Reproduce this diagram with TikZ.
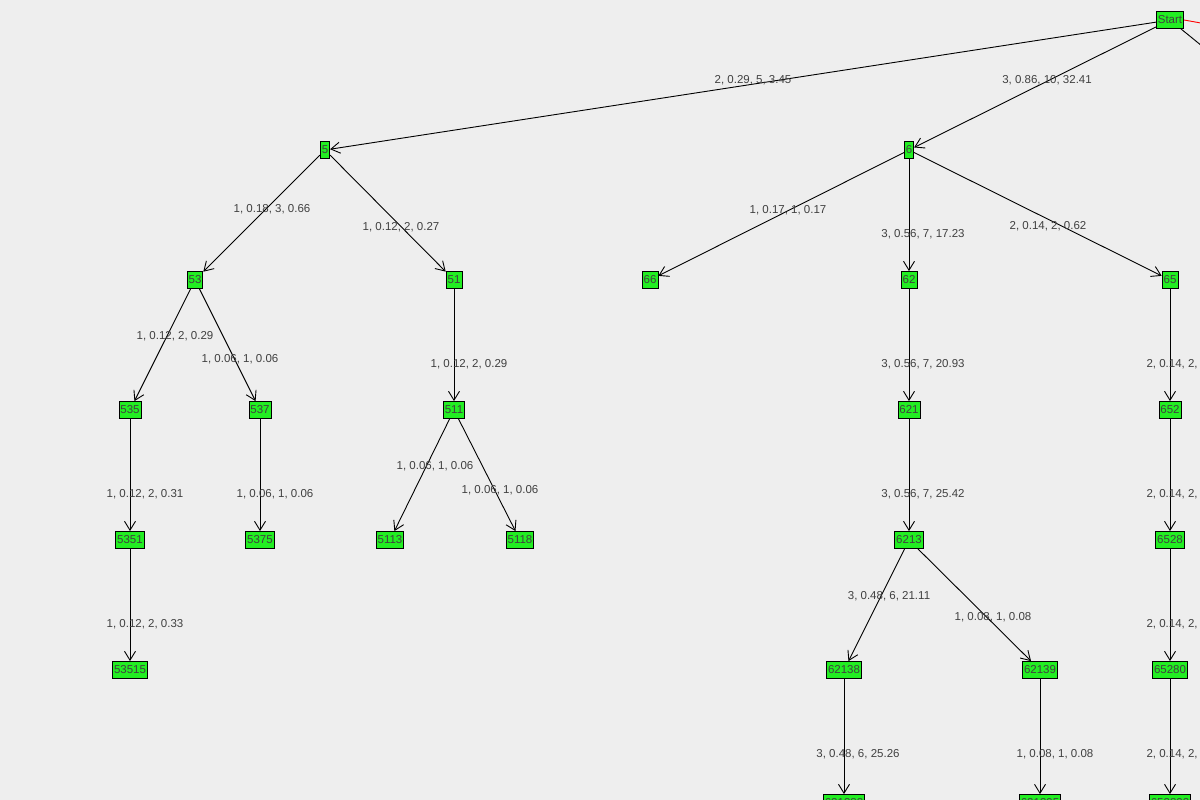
\documentclass[tikz,border=0pt]{standalone}
\usepackage{fontspec}
\setmainfont{Liberation Sans}
\usetikzlibrary{arrows.meta}
\definecolor{bgrey}{RGB}{238,238,238}
\definecolor{ngreen}{RGB}{34,238,34}
\tikzset{
  treenode/.style = {shape=rectangle, draw, fill=ngreen, font=\fontsize{11.5}{12}\selectfont,
                     inner sep=1.5pt, minimum height=17pt, text=black!75, line width=0.8pt},
  elabel/.style   = {font=\fontsize{11.5}{12}\selectfont, text=black!75},
  edge/.style     = {draw, -{Straight Barb[length=9pt,width=11pt]}, line width=0.9pt}
}
\begin{document}
\begin{tikzpicture}[x=1pt,y=-1pt]
\fill[bgrey] (0,0) rectangle (1200,800);
\useasboundingbox (0,0) rectangle (1200,800);
\begin{scope}
\clip (0,0) rectangle (1200,800);
% nodes
\node [treenode] (start) at (1170,20) {Start};
\node [treenode] (n5) at (325,150) {5};
\node [treenode] (n6) at (909,150) {6};
\node [treenode] (n7) at (1330,150) {7};
\coordinate (red) at (1240,30);
\node [treenode] (n53) at (195,280) {53};
\node [treenode] (n51) at (454,280) {51};
\node [treenode] (n66) at (650,280) {66};
\node [treenode] (n62) at (909,280) {62};
\node [treenode] (n65) at (1170,280) {65};
\node [treenode] (n535) at (130,410) {535};
\node [treenode] (n537) at (260,410) {537};
\node [treenode] (n511) at (454,410) {511};
\node [treenode] (n621) at (909,410) {621};
\node [treenode] (n652) at (1170,410) {652};
\node [treenode] (n5351) at (130,540) {5351};
\node [treenode] (n5375) at (260,540) {5375};
\node [treenode] (n5113) at (390,540) {5113};
\node [treenode] (n5118) at (520,540) {5118};
\node [treenode] (n6213) at (909,540) {6213};
\node [treenode] (n6528) at (1170,540) {6528};
\node [treenode] (n53515) at (130,670) {53515};
\node [treenode] (n62138) at (844,670) {62138};
\node [treenode] (n62139) at (1040,670) {62139};
\node [treenode] (n65280) at (1170,670) {65280};
\node [treenode] (n621382) at (844,803) {621382};
\node [treenode] (n621395) at (1040,803) {621395};
\node [treenode] (n652802) at (1170,803) {652802};
% edges
\draw [red, line width=0.9pt] (start.east) -- (red);
\draw [edge] (start) -- (n7);
\draw [edge] (start) -- (n5);
\draw [edge] (start) -- (n6);
\draw [edge] (n5) -- (n53);
\draw [edge] (n5) -- (n51);
\draw [edge] (n6) -- (n66);
\draw [edge] (n6) -- (n62);
\draw [edge] (n6) -- (n65);
\draw [edge] (n53) -- (n535);
\draw [edge] (n53) -- (n537);
\draw [edge] (n51) -- (n511);
\draw [edge] (n62) -- (n621);
\draw [edge] (n65) -- (n652);
\draw [edge] (n535) -- (n5351);
\draw [edge] (n537) -- (n5375);
\draw [edge] (n511) -- (n5113);
\draw [edge] (n511) -- (n5118);
\draw [edge] (n621) -- (n6213);
\draw [edge] (n652) -- (n6528);
\draw [edge] (n5351) -- (n53515);
\draw [edge] (n6213) -- (n62138);
\draw [edge] (n6213) -- (n62139);
\draw [edge] (n6528) -- (n65280);
\draw [edge] (n62138) -- (n621382);
\draw [edge] (n62139) -- (n621395);
\draw [edge] (n65280) -- (n652802);
% edge labels
\node [elabel] (l1) at (753,80) {2, 0.29, 5, 3.45};
\node [elabel] (l2) at (1047,80) {3, 0.86, 10, 32.41};
\node [elabel] (l3) at (272,209) {1, 0.18, 3, 0.66};
\node [elabel] (l4) at (401,227) {1, 0.12, 2, 0.27};
\node [elabel] (l5) at (788,210) {1, 0.17, 1, 0.17};
\node [elabel] (l6) at (923,234) {3, 0.56, 7, 17.23};
\node [elabel] (l7) at (1048,226) {2, 0.14, 2, 0.62};
\node [elabel] (l8) at (175,336) {1, 0.12, 2, 0.29};
\node [elabel] (l9) at (240,359) {1, 0.06, 1, 0.06};
\node [elabel] (l10) at (469,364) {1, 0.12, 2, 0.29};
\node [elabel] (l11) at (923,364) {3, 0.56, 7, 20.93};
\node [elabel, anchor=west] (l12) at (1143,364) {2, 0.14, 2, 0.62};
\node [elabel] (l13) at (145,494) {1, 0.12, 2, 0.31};
\node [elabel] (l14) at (275,494) {1, 0.06, 1, 0.06};
\node [elabel] (l15) at (435,466) {1, 0.06, 1, 0.06};
\node [elabel] (l16) at (500,490) {1, 0.06, 1, 0.06};
\node [elabel] (l17) at (923,494) {3, 0.56, 7, 25.42};
\node [elabel, anchor=west] (l18) at (1143,494) {2, 0.14, 2, 0.62};
\node [elabel] (l19) at (145,624) {1, 0.12, 2, 0.33};
\node [elabel] (l20) at (889,596) {3, 0.48, 6, 21.11};
\node [elabel] (l21) at (993,617) {1, 0.08, 1, 0.08};
\node [elabel, anchor=west] (l22) at (1143,624) {2, 0.14, 2, 0.62};
\node [elabel] (l23) at (858,754) {3, 0.48, 6, 25.26};
\node [elabel] (l24) at (1055,754) {1, 0.08, 1, 0.08};
\node [elabel, anchor=west] (l25) at (1143,754) {2, 0.14, 2, 0.62};
\end{scope}
\end{tikzpicture}
\end{document}
